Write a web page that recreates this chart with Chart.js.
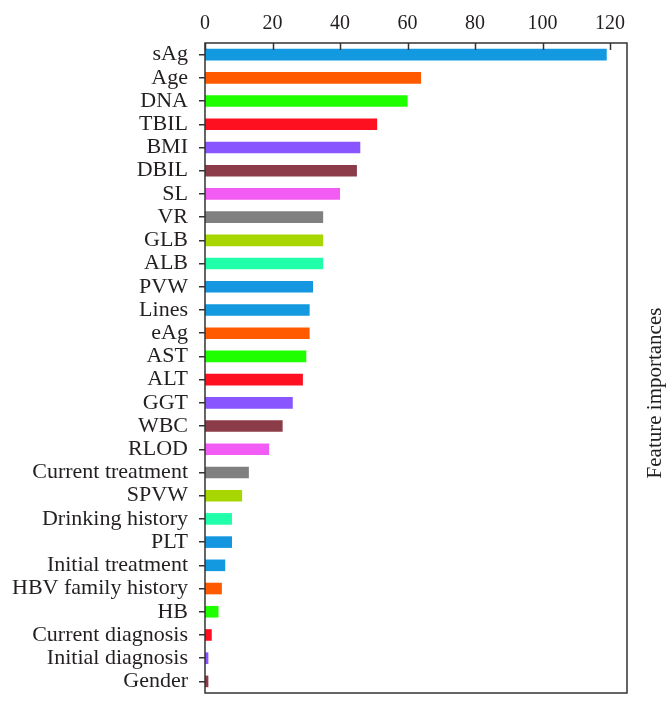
<!DOCTYPE html>
<html>
<head>
<meta charset="utf-8">
<script src="https://cdn.jsdelivr.net/npm/chart.js@4.4.0/dist/chart.umd.min.js"></script>
<style>
  html, body { margin: 0; padding: 0; background: #fff; }
  #wrap { width: 672px; height: 709px; }
</style>
</head>
<body>
<div id="wrap"><canvas id="graph-bar"></canvas></div>
<script>
const features = ["sAg", "Age", "DNA", "TBIL", "BMI", "DBIL", "SL", "VR", "GLB", "ALB",
    "PVW", "Lines", "eAg", "AST", "ALT", "GGT", "WBC", "RLOD", "Current treatment", "SPVW",
    "Drinking history", "PLT", "Initial treatment", "HBV family history", "HB",
    "Current diagnosis", "Initial diagnosis", "Gender"];
const importances = [119, 64, 60, 51, 46, 45, 40, 35, 35, 35,
    32, 31, 31, 30, 29, 26, 23, 19, 13, 11,
    8, 8, 6, 5, 4, 2, 1, 1];
const palette = [
    "#1299df", "#ff5a00", "#1eff00", "#ff1020", "#8855ff", "#8b3c48",
    "#f25cf5", "#808080", "#a8d600", "#22ffaa", "#1497e0"
];
const xTicks = [0, 20, 40, 60, 80, 100, 120];
const axisTitle = "Feature importances";

const barColors = features.map((f, i) => palette[i % palette.length]);
const serif = "'Liberation Serif', 'DejaVu Serif', serif";
const ink = "#231f20";

// box, inner ticks on top axis, rotated title on the right
const framePlugin = {
    id: "frame",
    afterDraw(chart) {
        const ctx = chart.ctx;
        const a = chart.chartArea;
        const xs = chart.scales.x;
        ctx.save();
        ctx.strokeStyle = "#333";
        ctx.lineWidth = 1.5;
        ctx.strokeRect(a.left, a.top, a.right - a.left, a.bottom - a.top);
        ctx.beginPath();
        xTicks.forEach(v => {
            const px = Math.round(xs.getPixelForValue(v)) + 0.5;
            ctx.moveTo(px, a.top);
            ctx.lineTo(px, a.top + 7);
        });
        ctx.stroke();
        ctx.fillStyle = ink;
        ctx.font = "21px " + serif;
        ctx.textAlign = "center";
        ctx.textBaseline = "middle";
        ctx.translate(655, 393);
        ctx.rotate(-Math.PI / 2);
        ctx.fillText(axisTitle, 0, 0);
        ctx.restore();
    }
};

new Chart(document.getElementById("graph-bar").getContext('2d'), {
    type: "bar",
    data: {
        labels: features,
        datasets: [{
            data: importances,
            backgroundColor: barColors,
            barPercentage: 0.5,
            categoryPercentage: 1.0
        }]
    },
    options: {
        indexAxis: "y",
        responsive: true,
        maintainAspectRatio: false,
        animation: false,
        layout: { padding: { top: 5, right: 45, bottom: 16, left: 1 } },
        plugins: {
            legend: { display: false },
            tooltip: { enabled: false }
        },
        scales: {
            x: {
                position: "top",
                min: 0,
                max: 125,
                afterBuildTicks: scale => {
                    scale.ticks = xTicks.map(v => ({ value: v }));
                },
                grid: { display: false, drawTicks: false },
                border: { display: false },
                ticks: {
                    color: ink,
                    padding: 7,
                    font: { family: serif, size: 20 }
                }
            },
            y: {
                afterFit: scale => {
                    scale.paddingTop = 0;
                    scale.paddingBottom = 0;
                },
                grid: {
                    offset: false,
                    drawOnChartArea: false,
                    drawTicks: true,
                    tickLength: 6,
                    color: "#333",
                    lineWidth: 1.5
                },
                border: { display: false },
                ticks: {
                    color: ink,
                    padding: 11,
                    autoSkip: false,
                    font: { family: serif, size: 22 }
                }
            }
        }
    },
    plugins: [framePlugin]
});
</script>
</body>
</html>
